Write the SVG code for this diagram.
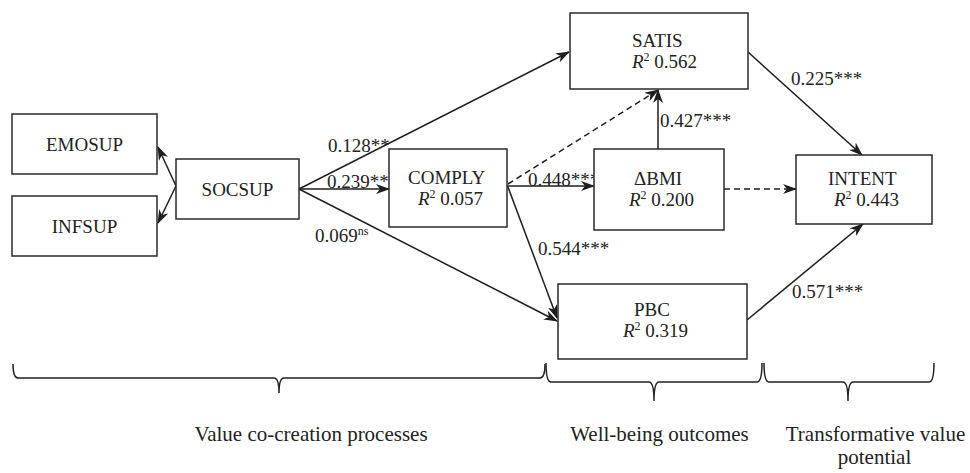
<svg xmlns="http://www.w3.org/2000/svg" width="970" height="473" viewBox="0 0 970 473">
<defs>
<style>
.box{fill:#fff;stroke:#2a2a2a;stroke-width:1.5}
.t{font-family:"Liberation Serif","Times New Roman",serif;font-size:19px;fill:#222}
.tm{text-anchor:middle}
.b{font-family:"Liberation Serif","Times New Roman",serif;font-size:21px;fill:#222;text-anchor:middle}
.ln{fill:none;stroke:#1e1e1e;stroke-width:1.5}
.ar{marker-end:url(#ah)}
.dash{stroke-dasharray:6 4}
.br{fill:none;stroke:#222;stroke-width:1.5}
.i{font-style:italic}
.sup{font-size:12px}
</style>
<marker id="ah" markerUnits="userSpaceOnUse" viewBox="0 0 14 10" refX="13" refY="5" markerWidth="14" markerHeight="10" orient="auto">
<path d="M0,0 L14,5 L0,10 L4,5 z" fill="#1e1e1e"/>
</marker>
</defs>

<g id="connectors">
<line class="ln ar" x1="176" y1="186" x2="158" y2="147"/>
<line class="ln ar" x1="176" y1="186" x2="158" y2="223"/>
<line class="ln ar" x1="299" y1="189" x2="569" y2="52"/>
<line class="ln ar" x1="299" y1="189" x2="389" y2="189"/>
<line class="ln ar" x1="299" y1="189" x2="557" y2="321"/>
<line class="ln ar" x1="507" y1="186" x2="594" y2="186"/>
<line class="ln ar dash" x1="508" y1="184" x2="658" y2="90"/>
<line class="ln ar" x1="658" y1="149" x2="658" y2="90"/>
<line class="ln ar" x1="508" y1="187" x2="557" y2="318"/>
<line class="ln ar dash" x1="724" y1="189" x2="796" y2="189"/>
<line class="ln ar" x1="748" y1="52" x2="862" y2="155"/>
<line class="ln ar" x1="747" y1="320" x2="863" y2="224"/>
<text class="t" x="328" y="152">0.128**</text>
<text class="t" x="327" y="188">0.239**</text>
<text class="t" x="315" y="242">0.069<tspan class="sup" dy="-7">ns</tspan></text>
<text class="t" x="528" y="186">0.448***</text>
<text class="t" x="660" y="127">0.427***</text>
<text class="t" x="538" y="255">0.544***</text>
<text class="t" x="791" y="85">0.225***</text>
<text class="t" x="792" y="298">0.571***</text>
</g>

<g id="EMOSUP">
<rect class="box" x="12" y="114" width="145" height="60"/>
<text class="t tm" x="84.5" y="151">EMOSUP</text>
</g>
<g id="INFSUP">
<rect class="box" x="12" y="196" width="145" height="60"/>
<text class="t tm" x="84.5" y="233">INFSUP</text>
</g>
<g id="SOCSUP">
<rect class="box" x="176" y="159" width="123" height="60"/>
<text class="t tm" x="237.5" y="196">SOCSUP</text>
</g>
<g id="COMPLY">
<rect class="box" x="389" y="149" width="118" height="78"/>
<text class="t"><tspan x="408" y="184">COMPLY</tspan><tspan class="i" x="418" y="205">R</tspan><tspan class="sup" dy="-7">2</tspan><tspan dy="7"> 0.057</tspan></text>
</g>
<g id="SATIS">
<rect class="box" x="570" y="13" width="178" height="76"/>
<text class="t"><tspan x="632" y="47">SATIS</tspan><tspan class="i" x="632" y="68">R</tspan><tspan class="sup" dy="-7">2</tspan><tspan dy="7"> 0.562</tspan></text>
</g>
<g id="DBMI">
<rect class="box" x="594" y="149" width="130" height="81"/>
<text class="t"><tspan x="634" y="185">ΔBMI</tspan><tspan class="i" x="629" y="206">R</tspan><tspan class="sup" dy="-7">2</tspan><tspan dy="7"> 0.200</tspan></text>
</g>
<g id="INTENT">
<rect class="box" x="796" y="155" width="136" height="69"/>
<text class="t"><tspan x="828" y="185">INTENT</tspan><tspan class="i" x="834" y="206">R</tspan><tspan class="sup" dy="-7">2</tspan><tspan dy="7"> 0.443</tspan></text>
</g>
<g id="PBC">
<rect class="box" x="558" y="284" width="189" height="75"/>
<text class="t"><tspan x="634" y="316">PBC</tspan><tspan class="i" x="623" y="337">R</tspan><tspan class="sup" dy="-7">2</tspan><tspan dy="7"> 0.319</tspan></text>
</g>

<g id="brackets">
<path class="br" d="M13,364 Q13,378 18,378 L274,378 Q279,378 279,393 Q279,378 284,378 L540,378 Q545,378 545,364"/>
<path class="br" d="M546,363 Q546,382 551,382 L649,382 Q654,382 654,401 Q654,382 659,382 L757,382 Q762,382 762,363"/>
<path class="br" d="M764,363 Q764,382 769,382 L843,382 Q848,382 848,401 Q848,382 853,382 L929,382 Q934,382 934,363"/>
<text class="b" x="311" y="441">Value co-creation processes</text>
<text class="b"><tspan x="659.5" y="441">Well-being outcomes</tspan></text>
<text class="b"><tspan x="875.5" y="441">Transformative value</tspan><tspan x="874.5" y="464">potential</tspan></text>
</g>
</svg>
